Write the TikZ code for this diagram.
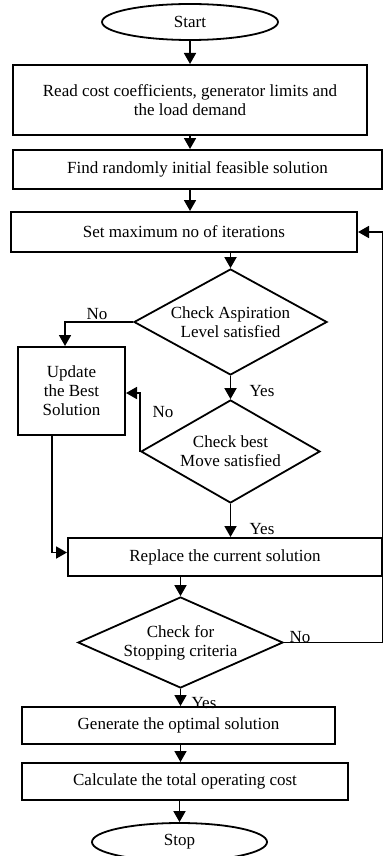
\documentclass[tikz,border=0pt]{standalone}
\usepackage{fontspec}
\setmainfont{Liberation Serif}
\usetikzlibrary{shapes.geometric,arrows.meta}
\begin{document}
\begin{tikzpicture}[x=1pt,y=-1pt,
  every node/.style={font=\fontsize{17}{19}\selectfont},
  box/.style={draw,line width=2pt,inner sep=0pt,align=center},
  term/.style={draw,ellipse,line width=1.8pt,inner sep=0pt},
  dia/.style={draw,diamond,line width=1.8pt,inner sep=0pt,align=center},
  arr/.style={line width=1.8pt,-{Triangle[length=11pt,width=12pt]}},
  lab/.style={inner sep=0pt}]
\useasboundingbox[fill=white] (0,0) rectangle (384,856);
\node[term,minimum width=176pt,minimum height=36pt] (start) at (190,22) {Start};
\node[box,minimum width=354pt,minimum height=70pt] (b1) at (190,100) {Read cost coefficients, generator limits and\\the load demand};
\node[box,minimum width=369pt,minimum height=39pt] (b2) at (197.5,169.5) {Find randomly initial feasible solution};
\node[box,minimum width=346pt,minimum height=40pt] (b3) at (184,232) {Set maximum no of iterations};
\node[dia,aspect=1.9,minimum width=193pt,minimum height=106pt] (d1) at (230.5,322) {Check Aspiration\\Level satisfied};
\node[box,minimum width=107pt,minimum height=88pt] (b4) at (71.5,391) {Update\\the Best\\Solution};
\node[dia,aspect=1.8,minimum width=179pt,minimum height=103pt] (d2) at (230.5,451.5) {Check best\\Move satisfied};
\node[box,minimum width=314pt,minimum height=38pt] (b5) at (225,557) {Replace the current solution};
\node[dia,aspect=2.2,minimum width=205pt,minimum height=91pt] (d3) at (180.5,642.5) {Check for\\Stopping criteria};
\node[box,minimum width=313pt,minimum height=37pt] (b6) at (178.5,725.5) {Generate the optimal solution};
\node[box,minimum width=326pt,minimum height=37pt] (b7) at (185,781.5) {Calculate the total operating cost};
\node[term,minimum width=175pt,minimum height=38pt] (stop) at (179.5,842) {Stop};
\coordinate (rr) at (382.5,642.5);
% connectors
\draw[arr] (start.south) -- (start.south |- b1.north);
\draw[arr] (b1.south) -- (b1.south |- b2.north);
\draw[arr] (b1.south |- b2.south) -- (b1.south |- b3.north);
\draw[arr] (d1.north |- b3.south) -- (d1.north);
\draw[arr] (d1.west) -| ([xshift=-6.5pt]b4.north);
\draw[arr] (d1.south) -- (d2.north);
\draw[arr] (d2.west) |- ([yshift=-2pt]b4.east);
\draw[arr] (d2.south) -- (d2.south |- b5.north);
\draw[arr] ([xshift=-19.5pt]b4.south) |- ([yshift=4.5pt]b5.west);
\draw[arr] (d3.north |- b5.south) -- (d3.north);
\draw[arr] (d3.east) -- (rr) |- (b3.east);
\draw[arr] (d3.south) -- (d3.south |- b6.north);
\draw[arr] (d3.south |- b6.south) -- (d3.south |- b7.north);
\draw[arr] (stop.north |- b7.south) -- (stop.north);
% labels
\node[lab] (n1) at (97,314) {No};
\node[lab] (y1) at (262,391) {Yes};
\node[lab] (n2) at (163,412) {No};
\node[lab] (y2) at (262,529) {Yes};
\node[lab] (n3) at (300,637) {No};
\node[lab] (y3) at (204,703) {Yes};
\end{tikzpicture}
\end{document}
